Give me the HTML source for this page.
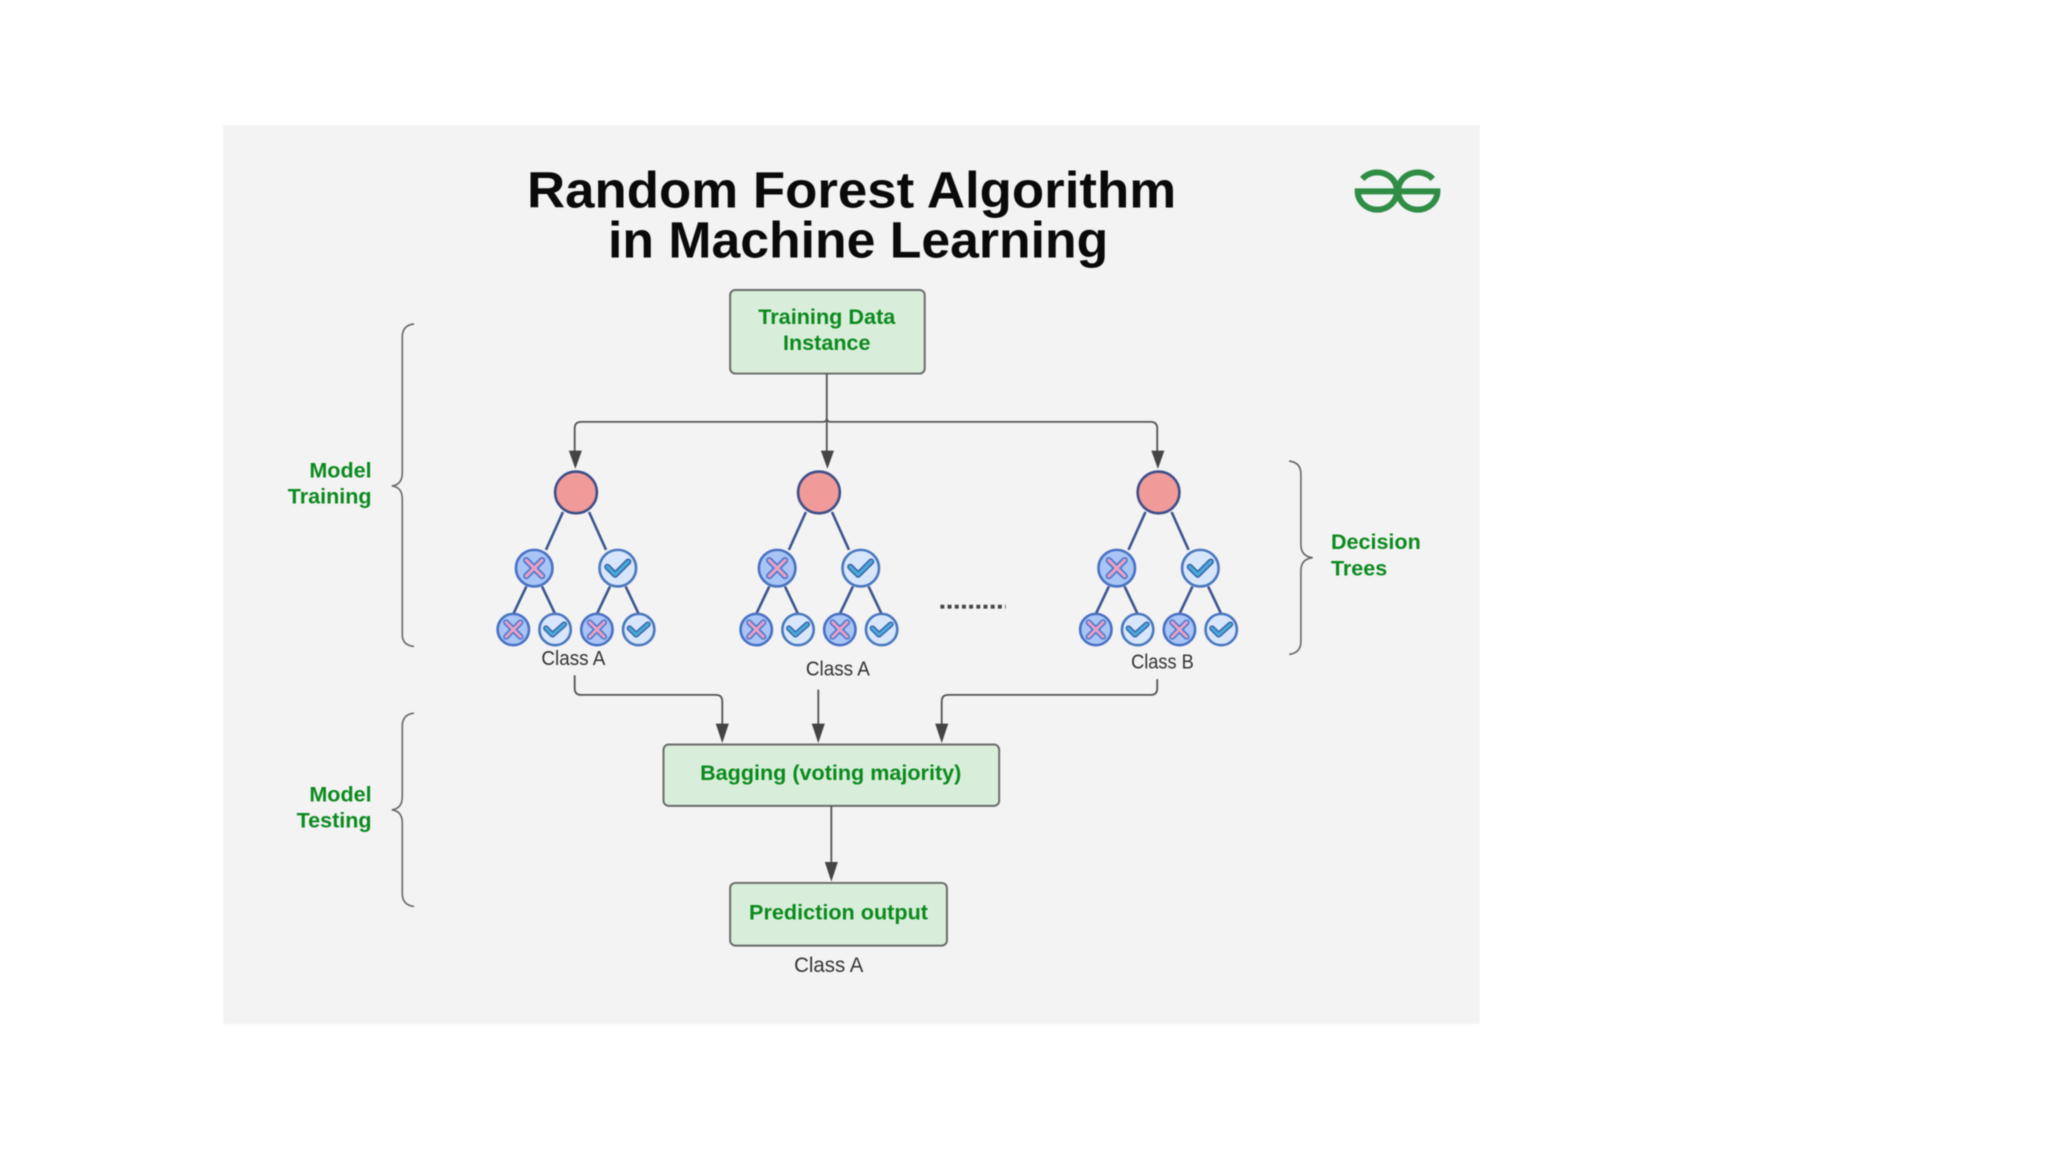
<!DOCTYPE html>
<html><head><meta charset="utf-8"><style>
html,body{margin:0;padding:0;background:#fff}
svg{display:block;width:2048px;height:1152px;filter:blur(0.5px)}
text{font-family:"Liberation Sans",sans-serif}
.g{font-weight:700;font-size:16.5px;fill:#0b8a1e}
.c{font-size:15.5px;fill:#333}
.t{font-weight:700;font-size:39px;fill:#0a0a0a}
.ln{stroke:#3f5590;stroke-width:2;fill:none}
.cn{stroke:#555;stroke-width:1.4;fill:none}
.br{stroke:#666;stroke-width:1.2;fill:none}
.box{fill:#d9eeda;stroke:#6a6a6a;stroke-width:1.5}
</style></head><body>
<svg viewBox="0 0 1568 882" xmlns="http://www.w3.org/2000/svg">
<defs>
<g id="nx14"><circle r="14" fill="#a9c5f6" stroke="#4872c4" stroke-width="2"/><path d="M-6-6L6 6M6-6L-6 6" stroke="#4f78cc" stroke-width="5" stroke-linecap="round"/><path d="M-6-6L6 6M6-6L-6 6" stroke="#eaa0c4" stroke-width="2.4" stroke-linecap="round"/></g>
<g id="nc14"><circle r="14" fill="#d8e6fb" stroke="#4a78be" stroke-width="2"/><path d="M-8-1L-2 5L8-5" fill="none" stroke="#3c63a8" stroke-width="4.8" stroke-linecap="round" stroke-linejoin="round"/><path d="M-8-1L-2 5L8-5" fill="none" stroke="#45acd9" stroke-width="2.4" stroke-linecap="round" stroke-linejoin="round"/></g>
<g id="nx12"><circle r="12" fill="#a9c5f6" stroke="#4872c4" stroke-width="2"/><path d="M-5.500-5.500L5.500 5.500M5.500-5.500L-5.500 5.500" stroke="#4f78cc" stroke-width="4.600" stroke-linecap="round"/><path d="M-5.500-5.500L5.500 5.500M5.500-5.500L-5.500 5.500" stroke="#eaa0c4" stroke-width="2.200" stroke-linecap="round"/></g>
<g id="nc12"><circle r="12" fill="#d8e6fb" stroke="#4a78be" stroke-width="2"/><path d="M-7-1L-2 4L7-4" fill="none" stroke="#3c63a8" stroke-width="4.400" stroke-linecap="round" stroke-linejoin="round"/><path d="M-7-1L-2 4L7-4" fill="none" stroke="#45acd9" stroke-width="2.200" stroke-linecap="round" stroke-linejoin="round"/></g>
<g id="tree">
<path class="ln" d="M-10 392L-23 421M10 392L23 421M-38 449L-48 470M-26 449L-16 470M26 449L16 470M38 449L48 470"/>
<circle cy="377" r="16" fill="#f09a9a" stroke="#3f4f88" stroke-width="2"/>
<use href="#nx14" x="-32" y="435"/><use href="#nc14" x="32" y="435"/>
<use href="#nx12" x="-48" y="482"/><use href="#nc12" x="-16" y="482"/>
<use href="#nx12" x="16" y="482"/><use href="#nc12" x="48" y="482"/>
</g>
</defs>
<rect x="171" y="96" width="962" height="688" fill="#f3f3f3"/>

<text class="t" x="652" y="159" text-anchor="middle" textLength="497" lengthAdjust="spacingAndGlyphs">Random Forest Algorithm</text>
<text class="t" x="657" y="197" text-anchor="middle" textLength="383" lengthAdjust="spacingAndGlyphs">in Machine Learning</text>

<g fill="none" stroke="#2f8d46" stroke-width="4.6">
<path d="M1043 137A15 14 0 0 1 1069.500 146.500A15 14 0 0 1 1039.500 146.500H1100.500A15 14 0 0 1 1070.500 146.500A15 14 0 0 1 1097 137"/>
</g>

<rect class="box" x="559" y="222" width="149" height="64" rx="4"/>
<text class="g" x="633" y="248" text-anchor="middle" textLength="105" lengthAdjust="spacingAndGlyphs">Training Data</text>
<text class="g" x="633" y="268" text-anchor="middle" textLength="67" lengthAdjust="spacingAndGlyphs">Instance</text>

<rect class="box" x="508" y="570" width="257" height="47" rx="4"/>
<text class="g" x="636" y="597" text-anchor="middle" textLength="200" lengthAdjust="spacingAndGlyphs">Bagging (voting majority)</text>
<rect class="box" x="559" y="676" width="166" height="48" rx="4"/>
<text class="g" x="642" y="704" text-anchor="middle" textLength="137" lengthAdjust="spacingAndGlyphs">Prediction output</text>

<path class="cn" d="M633 286V350M633 320Q633 323 630 323H445Q440 323 440 328V350M633 320Q633 323 636 323H881Q886 323 886 328V350"/>
<path class="cn" d="M440 517V527Q440 532 445 532H548Q553 532 553 537V558"/>
<path class="cn" d="M626.500 528V558"/>
<path class="cn" d="M886 520V527Q886 532 881 532H726Q721 532 721 537V558"/>
<path class="cn" d="M636.500 617V664"/>
<g fill="#444">
<path d="M435.500 345H445.500L440.500 359Z"/><path d="M628.500 345H638.500L633.500 359Z"/><path d="M881.500 345H891.500L886.500 359Z"/>
<path d="M548 554H558L553 569Z"/><path d="M621.500 554H631.500L626.500 569Z"/><path d="M716 554H726L721 569Z"/>
<path d="M631.500 660H641.500L636.500 675Z"/>
</g>

<use href="#tree" x="441"/><use href="#tree" x="627"/><use href="#tree" x="887"/>

<path d="M720 464.500H770" stroke="#444" stroke-width="3" stroke-dasharray="3 2.500"/>

<text class="c" x="439" y="509" text-anchor="middle" textLength="49" lengthAdjust="spacingAndGlyphs">Class A</text>
<text class="c" x="641.500" y="517" text-anchor="middle" textLength="49" lengthAdjust="spacingAndGlyphs">Class A</text>
<text class="c" x="890" y="512" text-anchor="middle" textLength="48" lengthAdjust="spacingAndGlyphs">Class B</text>
<text class="c" x="634.500" y="744" text-anchor="middle" textLength="53" lengthAdjust="spacingAndGlyphs" style="font-size:16.500px">Class A</text>

<path class="br" d="M317 248Q308 249 308 258V362Q308 371 300 372Q308 373 308 382V486Q308 494 317 495"/>
<path class="br" d="M317 546Q308 547 308 556V610Q308 619 300 620Q308 621 308 630V684Q308 693 317 694"/>
<path class="br" d="M987 353Q996 354 996 363V417Q996 426 1005 427Q996 428 996 437V491Q996 500 987 501"/>

<text class="g" x="284.500" y="365.500" text-anchor="end">Model</text>
<text class="g" x="284.500" y="385.500" text-anchor="end">Training</text>
<text class="g" x="284.500" y="613.500" text-anchor="end">Model</text>
<text class="g" x="284.500" y="633.500" text-anchor="end">Testing</text>
<text class="g" x="1019" y="420.500">Decision</text>
<text class="g" x="1019" y="440.500">Trees</text>
</svg>
</body></html>
